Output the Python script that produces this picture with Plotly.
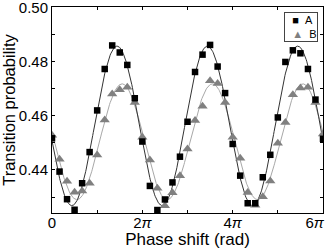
import numpy as np
import plotly.graph_objects as go

# phase shift in units of pi
phase_over_pi = [0.000, 0.167, 0.333, 0.500, 0.667, 0.833, 1.000, 1.167, 1.333, 1.500,
                 1.667, 1.833, 2.000, 2.167, 2.333, 2.500, 2.667, 2.833, 3.000, 3.167,
                 3.333, 3.500, 3.667, 3.833, 4.000, 4.167, 4.333, 4.500, 4.667, 4.833,
                 5.000, 5.167, 5.333, 5.500, 5.667, 5.833, 6.000]

prob_A = [0.4517, 0.4394, 0.4292, 0.4253, 0.4351, 0.4466, 0.4620, 0.4773, 0.4860, 0.4834,
          0.4788, 0.4665, 0.4505, 0.4341, 0.4252, 0.4291, 0.4354, 0.4449, 0.4578, 0.4762,
          0.4826, 0.4862, 0.4782, 0.4684, 0.4496, 0.4379, 0.4277, 0.4277, 0.4373, 0.4456,
          0.4594, 0.4799, 0.4842, 0.4831, 0.4773, 0.4660, 0.4515]

prob_B = [0.4528, 0.4440, 0.4358, 0.4318, 0.4322, 0.4351, 0.4455, 0.4585, 0.4681, 0.4696,
          0.4706, 0.4649, 0.4521, 0.4437, 0.4332, 0.4268, 0.4316, 0.4379, 0.4477, 0.4583,
          0.4635, 0.4730, 0.4719, 0.4649, 0.4521, 0.4443, 0.4317, 0.4270, 0.4301, 0.4359,
          0.4499, 0.4575, 0.4678, 0.4703, 0.4706, 0.4649, 0.4533]

series_names = ["A", "B"]
x_tick_multiples = [0, 1, 2, 3, 4, 5, 6]
x_tick_labels = ["0", "", "2<i>π</i>", "", "4<i>π</i>", "", "6<i>π</i>" + "\u00a0" * 4]
y_tick_vals = [0.43, 0.44, 0.45, 0.46, 0.47, 0.48, 0.49, 0.50]
y_tick_labels = ["", "0.44", "", "0.46", "", "0.48", "", "0.50"]

x = np.array(phase_over_pi) * np.pi


def sine_fit(xv, yv):
    M = np.column_stack([np.ones_like(xv), np.cos(xv), np.sin(xv)])
    coef, *_ = np.linalg.lstsq(M, np.array(yv), rcond=None)
    xf = np.linspace(xv.min(), xv.max(), 500)
    return xf, coef[0] + coef[1] * np.cos(xf) + coef[2] * np.sin(xf)


xa, fa = sine_fit(x, prob_A)
xb, fb = sine_fit(x, prob_B)

FONT = "Liberation Sans, Arial, sans-serif"

fig = go.Figure()
fig.add_trace(go.Scatter(x=xb, y=fb, mode="lines", line=dict(color="#a8a8a8", width=1),
                         showlegend=False, hoverinfo="skip"))
fig.add_trace(go.Scatter(x=xa, y=fa, mode="lines", line=dict(color="#333333", width=1),
                         showlegend=False, hoverinfo="skip"))
fig.add_trace(go.Scatter(x=x, y=prob_B, mode="markers", name=series_names[1],
                         marker=dict(symbol="triangle-up", size=9, color="#808080",
                                     line=dict(width=0)), showlegend=False))
fig.add_trace(go.Scatter(x=x, y=prob_A, mode="markers", name=series_names[0],
                         marker=dict(symbol="square", size=6.5, color="black",
                                     line=dict(width=0)), showlegend=False))

fig.add_annotation(
    xref="paper", yref="paper", x=0.982, y=0.976, xanchor="right", yanchor="top",
    text="\u00a0\u00a0<span style='color:black'>■</span>\u00a0\u00a0" + series_names[0]
         + "<br>\u00a0\u00a0<span style='color:#808080'>▲</span>\u00a0\u00a0" + series_names[1],
    showarrow=False, align="left", font=dict(family=FONT, size=11, color="black"),
    bordercolor="#444444", borderwidth=1, borderpad=1, bgcolor="white",
)

fig.update_xaxes(
    range=[0, 6 * np.pi], tickvals=[m * np.pi for m in x_tick_multiples], ticktext=x_tick_labels,
    ticks="inside", ticklen=3, tickcolor="black", mirror="ticks", showline=True,
    linecolor="black", linewidth=1, showgrid=False, zeroline=False,
    tickfont=dict(family=FONT, size=15, color="black"), ticklabeloverflow="allow",
    ticklabelstandoff=-4,
    title=dict(text="Phase shift (rad)", font=dict(family=FONT, size=17, color="black"), standoff=3),
)
fig.update_yaxes(
    range=[0.4241, 0.5002], tickvals=y_tick_vals, ticktext=y_tick_labels,
    ticks="inside", ticklen=3, tickcolor="black", mirror="ticks", showline=True,
    linecolor="black", linewidth=1, showgrid=False, zeroline=False,
    tickfont=dict(family=FONT, size=15, color="black"), ticklabeloverflow="allow",
    title=dict(text="Transition probability", font=dict(family=FONT, size=16.5, color="black"), standoff=4),
)
fig.update_layout(
    width=327, height=249, margin=dict(l=52, r=4, t=7, b=36, autoexpand=False),
    paper_bgcolor="white", plot_bgcolor="white", showlegend=False,
)
fig.write_html("out.html", config={"displayModeBar": False},
               post_script="document.body.style.margin='0';document.body.style.overflow='hidden';")
